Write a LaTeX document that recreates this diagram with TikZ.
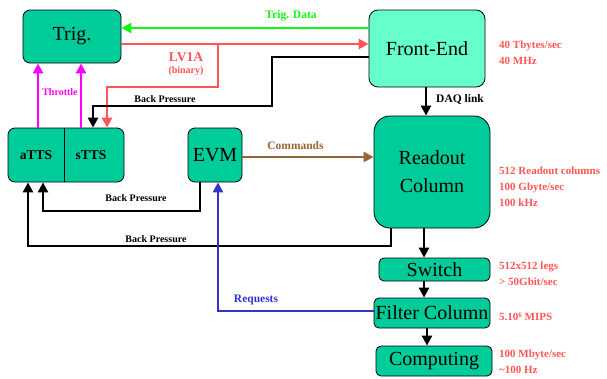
\documentclass[tikz,border=0pt]{standalone}
\usepackage{fontspec}
\setmainfont{Liberation Serif}
\usetikzlibrary{arrows.meta}
\definecolor{boxteal}{HTML}{00CC99}
\definecolor{boxlight}{HTML}{66FFCC}
\definecolor{cgreen}{HTML}{11F511}
\definecolor{cred}{HTML}{FF5555}
\definecolor{cmag}{HTML}{FF00FF}
\definecolor{cbrown}{HTML}{996633}
\definecolor{cblue}{HTML}{3333CC}
\tikzset{
  blk/.style={draw=black, line width=0.8pt, rounded corners=7pt, fill=boxteal, inner sep=0pt, font=\fontsize{20}{24}\selectfont, align=center},
  conn/.style={line width=2.8pt, -{Triangle[length=10pt,width=10pt]}},
  lbl/.style={font=\bfseries\fontsize{11.5}{13}\selectfont, inner sep=0pt},
  slbl/.style={font=\bfseries\fontsize{10}{12}\selectfont, inner sep=0pt},
  rlbl/.style={font=\bfseries\fontsize{11}{16}\selectfont, text=cred, align=left, anchor=west, inner sep=0pt},
}
\begin{document}
\begin{tikzpicture}[x=1pt,y=-1pt]
\useasboundingbox (0,0) rectangle (607,378);
% boxes
\node[blk, minimum width=98pt, minimum height=53pt] (trig) at (72,36.5) {Trig.};
\node[blk, fill=boxlight, rounded corners=9pt, minimum width=116pt, minimum height=77pt] (fe) at (427,48.5) {Front-End};
\node[blk, minimum width=116pt, minimum height=54pt] (tts) at (66,155) {};
\draw[line width=0.8pt] (64,0 |- tts.north) -- (64,0 |- tts.south);
\node[font=\bfseries\fontsize{13.5}{16}\selectfont, inner sep=0pt] (atts) at (36,155) {aTTS};
\node[font=\bfseries\fontsize{13.5}{16}\selectfont, inner sep=0pt] (stts) at (91,155) {sTTS};
\node[blk, minimum width=54pt, minimum height=54pt] (evm) at (215,155) {EVM};
\node[blk, rounded corners=16pt, minimum width=116pt, minimum height=112pt, font=\fontsize{20}{28}\selectfont] (ro) at (432,172) {Readout\\Column};
\node[blk, rounded corners=5pt, minimum width=111pt, minimum height=23pt] (sw) at (434.5,269.5) {Switch};
\node[blk, rounded corners=5pt, minimum width=116pt, minimum height=30pt] (fc) at (432,313) {Filter Column};
\node[blk, rounded corners=5pt, minimum width=116pt, minimum height=30pt] (comp) at (434,361) {Computing};
% coordinates
\coordinate (lvb) at (218,44);
% connectors
\draw[conn, cgreen] (fe.west |- 0,28) -- (trig.east |- 0,28);
\draw[conn, cred] (trig.east |- 0,44) -- (fe.west |- 0,44);
\draw[conn, cred] (lvb) -- (218,87) -- (107,87) -- (107,0 |- tts.north);
\draw[conn, black] (fe.west |- 0,57) -- (272,57) -- (272,106) -- (93,106) -- (93,0 |- tts.north);
\draw[conn, black] (fe.south -| 426,0) -- (ro.north -| 426,0);
\draw[conn, cmag] (38,0 |- tts.north) -- (38,0 |- trig.south);
\draw[conn, cmag] (81,0 |- tts.north) -- (81,0 |- trig.south);
\draw[conn, cbrown] (evm.east |- 0,157) -- (ro.west |- 0,157);
\draw[conn, black] (200,0 |- evm.south) -- (200,211) -- (43,211) -- (43,0 |- tts.south);
\draw[conn, black] (391,0 |- ro.south) -- (391,246) -- (28,246) -- (28,0 |- tts.south);
\draw[conn, cblue] (fc.west |- 0,311) -- (218,311) -- (218,0 |- evm.south);
\draw[conn, black] (ro.south -| 424,0) -- (sw.north -| 424,0);
\draw[conn, black] (sw.south -| 424,0) -- (fc.north -| 424,0);
\draw[conn, black] (fc.south -| 427,0) -- (comp.north -| 427,0);
% labels
\node[lbl, text=cgreen] (ltd) at (291,16) {Trig. Data};
\node[font=\bfseries\fontsize{13.5}{16}\selectfont, text=cred, inner sep=0pt] (llv) at (186,57) {LV1A};
\node[font=\bfseries\fontsize{10}{12}\selectfont, text=cred, inner sep=0pt] (lbin) at (186,71) {(binary)};
\node[slbl] (lbp1) at (165,99) {Back Pressure};
\node[lbl, anchor=west] (ldaq) at (436,99) {DAQ link};
\node[slbl, text=cmag] (lthr) at (60,92) {Throttle};
\node[lbl, text=cbrown] (lcmd) at (295.5,146) {Commands};
\node[slbl] (lbp2) at (136,198) {Back Pressure};
\node[slbl] (lbp3) at (156,239) {Back Pressure};
\node[lbl, text=cblue] (lreq) at (256,300) {Requests};
\node[rlbl] (r1) at (499,53) {40 Tbytes/sec\\40 MHz};
\node[rlbl] (r2) at (499,186.5) {512 Readout columns\\100 Gbyte/sec\\100 kHz};
\node[rlbl] (r3) at (499,274) {512x512 legs\\> 50Gbit/sec};
\node[rlbl] (r4) at (499,317) {5.10{\fontsize{7}{8}\selectfont\raisebox{3pt}{6}} MIPS};
\node[rlbl] (r5) at (499,362) {100 Mbyte/sec\\\textasciitilde100 Hz};
\end{tikzpicture}
\end{document}
